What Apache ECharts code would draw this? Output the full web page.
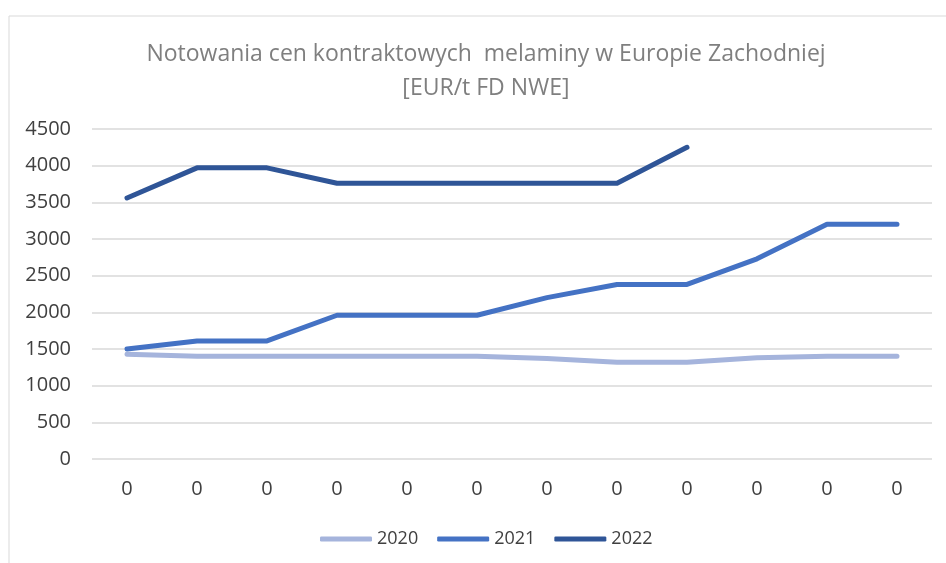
<!DOCTYPE html>
<html>
<head>
<meta charset="utf-8">
<script src="https://cdn.jsdelivr.net/npm/echarts@6/dist/echarts.min.js"></script>
<style>
  html, body { margin: 0; padding: 0; background: #fff; }
  #chart { width: 946px; height: 563px; }
</style>
</head>
<body>
<div id="chart"></div>
<script>
// months are labelled "0" in the source chart
const categories = ['0', '0', '0', '0', '0', '0', '0', '0', '0', '0', '0', '0']
const yTicks = [0, 500, 1000, 1500, 2000, 2500, 3000, 3500, 4000, 4500]
const data2020 = [1430, 1400, 1400, 1400, 1400, 1400, 1370, 1320, 1320, 1380, 1400, 1400]
const data2021 = [1500, 1610, 1610, 1960, 1960, 1960, 2200, 2380, 2380, 2730, 3200, 3200]
const data2022 = [3560, 3970, 3970, 3760, 3760, 3760, 3760, 3760, 4250, null, null, null]

const font = 'Open Sans'

function lineSeries (name, color, values) {
  return {
    name: name,
    type: 'line',
    data: values,
    symbol: 'none',
    connectNulls: false,
    lineStyle: { color: color, width: 5, cap: 'round', join: 'round' },
    itemStyle: { color: color }
  }
}

const chart = echarts.init(document.getElementById('chart'), null, { renderer: 'canvas' })
chart.setOption({
  animation: false,
  backgroundColor: '#fff',
  graphic: [{
    type: 'rect',
    shape: { x: 9, y: 16, width: 1000, height: 600 },
    style: { fill: 'none', stroke: '#d9d9d9', lineWidth: 1 },
    silent: true
  }],
  title: {
    text: 'Notowania cen kontraktowych  melaminy w Europie Zachodniej\n[EUR/t FD NWE]',
    left: 481,
    top: 32,
    textAlign: 'center',
    textStyle: {
      fontFamily: font,
      fontSize: 23,
      fontWeight: 'normal',
      color: '#7f7f7f',
      lineHeight: 34
    }
  },
  legend: {
    bottom: 10,
    left: 315,
    icon: 'roundRect',
    itemWidth: 52,
    itemHeight: 5,
    itemGap: 19,
    textStyle: { fontFamily: font, fontSize: 18, color: '#404040' },
    data: ['2020', '2021', '2022']
  },
  grid: { left: 92, right: 14, top: 129, bottom: 104, containLabel: false },
  xAxis: {
    type: 'category',
    data: categories,
    boundaryGap: true,
    axisLine: { show: false },
    axisTick: { show: false },
    axisLabel: { margin: 20, fontFamily: font, fontSize: 20, color: '#404040' }
  },
  yAxis: {
    type: 'value',
    min: yTicks[0],
    max: yTicks[yTicks.length - 1],
    interval: 500,
    axisLine: { show: false },
    axisTick: { show: false },
    axisLabel: {
      margin: 21,
      fontFamily: font,
      fontSize: 20,
      color: '#404040',
      formatter: function (v) { return String(v) }
    },
    splitLine: { lineStyle: { color: '#d9d9d9', width: 1.5 } }
  },
  series: [
    lineSeries('2020', '#a5b4dc', data2020),
    lineSeries('2021', '#4472c4', data2021),
    lineSeries('2022', '#2f5597', data2022)
  ]
})
</script>
</body>
</html>
